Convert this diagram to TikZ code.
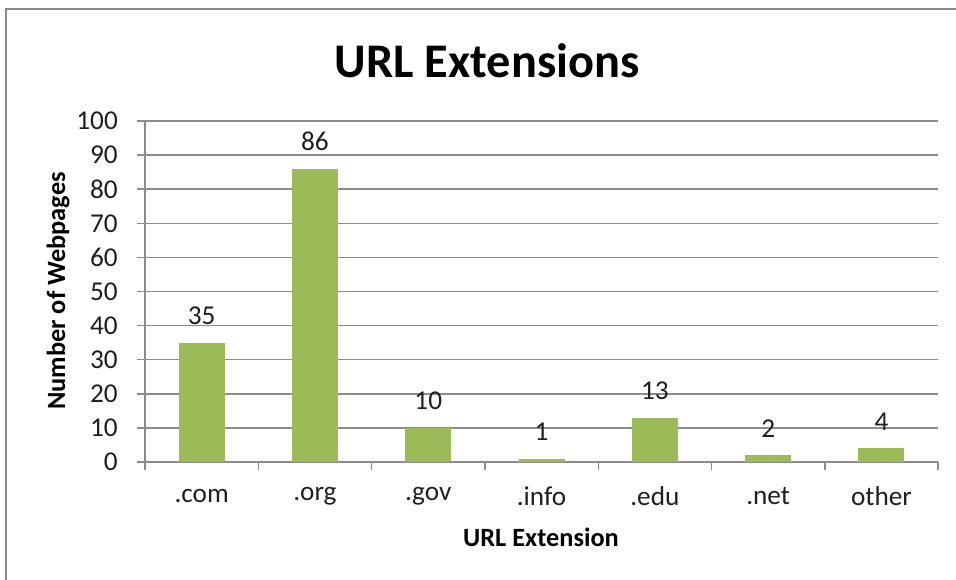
\documentclass[tikz,border=0pt]{standalone}
\usepackage{fontspec}
\setmainfont{Carlito}
\usetikzlibrary{positioning}
\definecolor{barGreen}{HTML}{9BBB59}
\definecolor{gridGray}{HTML}{8C8C8C}
\definecolor{frameGray}{HTML}{888888}
\tikzset{
  tickLabel/.style={font=\fontsize{15.5}{18}\selectfont, text=black!88},
  axisTitle/.style={font=\fontsize{15}{18}\selectfont\bfseries},
  barStyle/.style={fill=barGreen, draw=none},
  gridLine/.style={draw=gridGray, line width=0.8pt}
}

\begin{document}
\begin{tikzpicture}[x=0.02cm, y=-0.02cm]
  \useasboundingbox (0,0) rectangle (956,580);
  % outer frame
  \draw [frameGray, line width=1.2pt] (6,600) -- (6,9) -- (970,9);
  % title
  \node (title) at (487,61) {\fontsize{27.5}{32}\selectfont\bfseries URL Extensions};
  % grid and value axis
  \foreach \v in {0,10,...,100} {
    \draw [gridLine] (137,{462-3.41*\v}) -- (938,{462-3.41*\v});
    \node [tickLabel, anchor=east] (y\v) at (124,{462-3.41*\v}) {\v};
  }
  \draw [gridLine] (145,121) -- (145,470);
  % bars
  \foreach \lab/\val [count=\i] in {.com/35,.org/86,.gov/10,.info/1,.edu/13,.net/2,other/4} {
    \pgfmathsetmacro{\cx}{145+113.3*(\i-0.5)}
    \fill [barStyle] ({\cx-23},462) rectangle ({\cx+23},{462-3.41*\val});
    \node [tickLabel] (val\i) at (\cx,{462-3.41*\val-27}) {\val};
    \node [tickLabel] (cat\i) at (\cx,496) {\lab};
    \draw [gridLine] ({145+113.3*\i},462) -- ({145+113.3*\i},470);
  }
  % axis titles
  \node [axisTitle] (xtitle) at (541,537) {URL Extension};
  \node [axisTitle, rotate=90] (ytitle) at (58,291) {Number of Webpages};
\end{tikzpicture}
\end{document}
